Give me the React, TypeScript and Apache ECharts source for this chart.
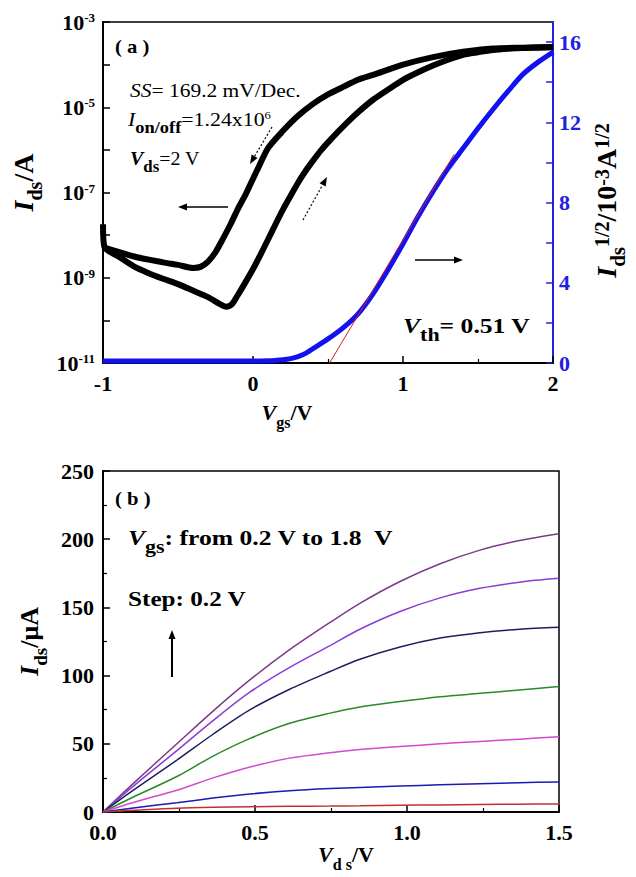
import React, { useEffect, useRef } from 'react';
import * as echarts from 'echarts';

const FONT = '"Liberation Serif", "Times New Roman", serif';

// ---------- Panel (a): transfer curve ----------
// forward sweep (lower branch), Vgs (V) and Ids (A)
const fwdVgs = [-1.0, -0.99, -0.9, -0.8, -0.7, -0.6, -0.5, -0.4, -0.3, -0.22, -0.18, -0.14, -0.1, -0.05, 0.0, 0.05, 0.1, 0.15, 0.2, 0.25, 0.3, 0.35, 0.4, 0.45, 0.5, 0.6, 0.7, 0.8, 0.9, 1.0, 1.1, 1.2, 1.3, 1.4, 1.5, 1.6, 1.7, 1.8, 1.9, 2.0];
const fwdIds = [1.8e-8, 5.2e-9, 3.2e-9, 1.9e-9, 1.3e-9, 9.5e-10, 7.1e-10, 5.0e-10, 3.5e-10, 2.4e-10, 2.1e-10, 2.4e-10, 4.0e-10, 7.9e-10, 1.6e-9, 3.5e-9, 7.9e-9, 1.8e-8, 4.0e-8, 8.3e-8, 1.7e-7, 3.2e-7, 5.6e-7, 9.5e-7, 1.5e-6, 3.5e-6, 7.6e-6, 1.5e-5, 2.6e-5, 4.4e-5, 6.6e-5, 9.5e-5, 1.3e-4, 1.7e-4, 1.95e-4, 2.2e-4, 2.35e-4, 2.45e-4, 2.5e-4, 2.57e-4];
// reverse sweep (upper branch)
const revVgs = [2.0, 1.8, 1.6, 1.4, 1.2, 1.0, 0.8, 0.7, 0.6, 0.5, 0.4, 0.3, 0.2, 0.1, 0.03, 0.0, -0.05, -0.1, -0.15, -0.2, -0.25, -0.3, -0.35, -0.4, -0.5, -0.6, -0.8, -1.0];
const revIds = [2.6e-4, 2.5e-4, 2.4e-4, 2.0e-4, 1.5e-4, 1.0e-4, 5.75e-5, 4.4e-5, 3.0e-5, 2.0e-5, 1.2e-5, 6.3e-6, 2.8e-6, 1.1e-6, 3.5e-7, 2.1e-7, 8.9e-8, 4.2e-8, 1.8e-8, 8.3e-9, 4.0e-9, 2.4e-9, 1.8e-9, 1.7e-9, 2.0e-9, 2.3e-9, 3.2e-9, 5.2e-9];
// sqrt(Ids) in 10^-3 A^1/2
const sqrtVgs = [-1.0, -0.5, 0.0, 0.1, 0.15, 0.2, 0.25, 0.3, 0.35, 0.4, 0.5, 0.6, 0.7, 0.8, 0.9, 1.0, 1.1, 1.2, 1.3, 1.4, 1.5, 1.6, 1.7, 1.8, 1.9, 2.0];
const sqrtIds = [0.1, 0.1, 0.1, 0.11, 0.13, 0.16, 0.22, 0.32, 0.48, 0.72, 1.2, 1.75, 2.45, 3.45, 4.65, 5.95, 7.3, 8.55, 9.7, 10.7, 11.7, 12.65, 13.55, 14.4, 15.0, 15.5];
// linear fit giving Vth
const fitVgs = [0.51, 1.34];
const fitSqrt = [0, 10.4];

const sqrtTicks = [0, 2, 4, 6, 8, 10, 12, 14, 16];
const sqrtLabels = [0, 4, 8, 12, 16];

// ---------- Panel (b): output curves ----------
const vds = [0, 0.1, 0.243, 0.362, 0.484, 0.614, 0.747, 0.845, 0.977, 1.109, 1.24, 1.37, 1.5];
const idsVgs18 = [0, 21, 50, 74, 97, 119, 139, 153, 169, 182, 192, 199, 204];
const idsVgs16 = [0, 19, 45, 67, 88, 106, 122, 134, 147, 157, 164, 168.5, 171.3];
const idsVgs14 = [0, 16, 38, 57, 75, 90, 103, 112, 121, 127.5, 131.5, 134, 135.4];
const idsVgs12 = [0, 11, 26, 41, 54, 65, 72.5, 77, 81, 84.5, 87, 89.5, 92];
const idsVgs10 = [0, 7, 16, 25, 33, 39.5, 43.5, 45.8, 48, 50, 51.7, 53.4, 55.2];
const idsVgs08 = [0, 3, 6.8, 10.2, 13.2, 15.6, 17.2, 18, 19, 20, 20.8, 21.5, 22];
const idsVgs06 = [0, 1.2, 2.8, 3.5, 3.9, 4.2, 4.4, 4.6, 5.0, 5.2, 5.5, 5.7, 5.9];
const outputSeries = [idsVgs18, idsVgs16, idsVgs14, idsVgs12, idsVgs10, idsVgs08, idsVgs06];
const outputNames = ['1.8 V', '1.6 V', '1.4 V', '1.2 V', '1.0 V', '0.8 V', '0.6 V'];
const outputColors = ['#7a3a88', '#8a3cd8', '#1e1e5e', '#2a8a2a', '#d24ad2', '#1a1ab4', '#c23030'];

const BLUE = '#2020e0';

// rich styles: main tokens top-aligned, subscripts bottom-aligned in a taller line
function richSet(main: number, small: number, drop: number, sup: number, mainBold: boolean, colorKey: string) {
  const w = mainBold ? 'bold' : 'normal';
  return {
    i: { fontFamily: FONT, fontSize: main, lineHeight: main, verticalAlign: 'top', fontWeight: w, fontStyle: 'italic', [colorKey]: '#000' },
    ib: { fontFamily: FONT, fontSize: main, lineHeight: main, verticalAlign: 'top', fontWeight: 'bold', fontStyle: 'italic', [colorKey]: '#000' },
    n: { fontFamily: FONT, fontSize: main, lineHeight: main, verticalAlign: 'top', fontWeight: w, [colorKey]: '#000' },
    s: { fontFamily: FONT, fontSize: small, lineHeight: main + drop, verticalAlign: 'bottom', fontWeight: 'bold', [colorKey]: '#000' },
    p: { fontFamily: FONT, fontSize: sup, lineHeight: sup, verticalAlign: 'top', fontWeight: mainBold ? 'bold' : 'normal', [colorKey]: '#000' },
  };
}

const tickLabel = {
  color: '#000',
  fontFamily: FONT,
  fontWeight: 'bold',
  fontSize: 22,
};

const blackLine = { color: '#000', width: 2 };

function arrowHead(tip: number[], from: number[], len = 9, half = 3.5) {
  const dx = tip[0] - from[0];
  const dy = tip[1] - from[1];
  const d = Math.sqrt(dx * dx + dy * dy);
  const ux = dx / d;
  const uy = dy / d;
  const bx = tip[0] - ux * len;
  const by = tip[1] - uy * len;
  return [
    [tip[0], tip[1]],
    [bx - uy * half, by + ux * half],
    [bx + uy * half, by - ux * half],
  ];
}

function arrow(from: number[], tip: number[], dashed = false, width = 1.5) {
  const head = arrowHead(tip, from);
  const mid = [(head[1][0] + head[2][0]) / 2, (head[1][1] + head[2][1]) / 2];
  return [
    {
      type: 'line',
      shape: { x1: from[0], y1: from[1], x2: mid[0], y2: mid[1] },
      style: { stroke: '#000', lineWidth: width, lineDash: dashed ? [2, 2] : null },
      silent: true,
    },
    {
      type: 'polygon',
      shape: { points: head },
      style: { fill: '#000' },
      silent: true,
    },
  ];
}

function txt(x: number, y: number, text: string, rich: any, scaleX = 1) {
  return {
    type: 'text',
    x,
    y,
    scaleX,
    silent: true,
    style: {
      text,
      rich,
      fontFamily: FONT,
      align: 'left',
      verticalAlign: 'top',
      fill: '#000',
    },
  };
}

export default function App() {
  const ref = useRef<HTMLDivElement>(null);

  useEffect(() => {
    if (!ref.current) return;
    const chart = echarts.init(ref.current, null, { renderer: 'svg' });

    const regRich = richSet(19, 16, 7, 11, false, 'fill');
    const boldRich = richSet(21, 18, 8, 12, true, 'fill');
    const tagRich = { n: { fontFamily: FONT, fontSize: 18, lineHeight: 18, verticalAlign: 'top', fontWeight: 'bold', fill: '#000' } };

    const option: any = {
      animation: false,
      backgroundColor: '#fff',
      grid: [
        { left: 103, top: 22, width: 456, height: 341, show: true, borderColor: '#000', borderWidth: 1.5, backgroundColor: 'transparent' },
        { left: 103, top: 471, width: 456, height: 341, show: true, borderColor: '#000', borderWidth: 1.5, backgroundColor: 'transparent' },
      ],
      xAxis: [
        {
          type: 'value',
          gridIndex: 0,
          min: -1,
          max: 2,
          interval: 1,
          axisLine: { onZero: false, lineStyle: blackLine },
          axisTick: { inside: true, length: 7, lineStyle: { color: '#000', width: 1.5 } },
          minorTick: { show: true, splitNumber: 2, length: 4, lineStyle: { color: '#000', width: 1.2 } },
          splitLine: { show: false },
          axisLabel: { ...tickLabel, margin: 9 },
          name: '{i|V}{s|gs}{n|/V}',
          nameLocation: 'middle',
          nameGap: 38,
          nameTextStyle: { rich: richSet(22, 16, 7, 14, true, 'color'), padding: [0, 82, 0, 0] },
        },
        {
          type: 'value',
          gridIndex: 1,
          min: 0,
          max: 1.5,
          interval: 0.5,
          axisLine: { onZero: false, lineStyle: blackLine },
          axisTick: { inside: true, length: 7, lineStyle: { color: '#000', width: 1.5 } },
          minorTick: { show: true, splitNumber: 2, length: 4, lineStyle: { color: '#000', width: 1.2 } },
          splitLine: { show: false },
          axisLabel: { ...tickLabel, margin: 9, formatter: (v: number) => v.toFixed(1) },
          name: '{i|V}{s|d s}{n|/V}',
          nameLocation: 'middle',
          nameGap: 27,
          nameTextStyle: { rich: richSet(22, 16, 7, 14, true, 'color'), padding: [0, 0, 0, 30] },
        },
      ],
      yAxis: [
        {
          type: 'log',
          logBase: 10,
          gridIndex: 0,
          position: 'left',
          min: 1e-11,
          max: 1e-3,
          splitNumber: 8,
          axisLine: { show: true, onZero: false, lineStyle: blackLine },
          axisTick: { show: true, inside: true, length: 7, lineStyle: { color: '#000', width: 1.5 } },
          splitLine: { show: false },
          axisLabel: {
            margin: 8,
            formatter: (v: number) => {
              const e = Math.round(Math.log10(v));
              return e % 2 !== 0 ? `{b|10}{s|${e}}` : '';
            },
            rich: {
              b: { fontFamily: FONT, fontWeight: 'bold', fontSize: 22, lineHeight: 22, verticalAlign: 'top', color: '#000' },
              s: { fontFamily: FONT, fontWeight: 'bold', fontSize: 13, lineHeight: 13, verticalAlign: 'top', color: '#000' },
            },
          },
          name: '{i|I}{s|ds}{n|/A}',
          nameLocation: 'middle',
          nameRotate: 90,
          nameGap: 48,
          nameTextStyle: { rich: richSet(28, 20, 8, 18, true, 'color'), padding: [0, 0, 0, 20] },
        },
        {
          type: 'value',
          gridIndex: 0,
          position: 'right',
          min: 0,
          max: 17,
          interval: 2,
          axisLine: { show: true, onZero: false, lineStyle: { color: BLUE, width: 2 } },
          axisTick: { show: true, inside: true, length: 7, customValues: sqrtTicks, lineStyle: { color: BLUE, width: 1.5 } },
          splitLine: { show: false },
          axisLabel: {
            ...tickLabel,
            color: BLUE,
            margin: 6,
            customValues: sqrtLabels,
            formatter: (v: number) => (v % 4 === 0 && v <= 16 ? String(v) : ''),
          },
          name: '{i|I}{s|ds}{p|1/2}{n|/10}{p|-3}{n|A}{p|1/2}',
          nameLocation: 'middle',
          nameRotate: 90,
          nameGap: 36,
          nameTextStyle: { rich: richSet(28, 21, 8, 20, true, 'color'), padding: [0, 16, 0, 0] },
        },
        {
          type: 'value',
          gridIndex: 1,
          min: 0,
          max: 250,
          interval: 50,
          axisLine: { show: true, onZero: false, lineStyle: blackLine },
          axisTick: { inside: true, length: 7, lineStyle: { color: '#000', width: 1.5 } },
          minorTick: { show: true, splitNumber: 2, length: 4, lineStyle: { color: '#000', width: 1.2 } },
          splitLine: { show: false },
          axisLabel: { ...tickLabel, margin: 9 },
          name: '{i|I}{s|ds}{n|/μA}',
          nameLocation: 'middle',
          nameRotate: 90,
          nameGap: 50,
          nameTextStyle: { rich: richSet(26, 19, 8, 16, true, 'color') },
        },
      ],
      series: [
        {
          name: 'forward',
          type: 'line',
          xAxisIndex: 0,
          yAxisIndex: 0,
          data: fwdVgs.map((v, i) => [v, fwdIds[i]]),
          showSymbol: false,
          smooth: 0.25,
          lineStyle: { color: '#000', width: 6 },
        },
        {
          name: 'reverse',
          type: 'line',
          xAxisIndex: 0,
          yAxisIndex: 0,
          data: revVgs.map((v, i) => [v, revIds[i]]),
          showSymbol: false,
          smooth: 0.25,
          lineStyle: { color: '#000', width: 6 },
        },
        {
          name: 'sqrtIds',
          type: 'line',
          xAxisIndex: 0,
          yAxisIndex: 1,
          data: sqrtVgs.map((v, i) => [v, sqrtIds[i]]),
          showSymbol: false,
          smooth: 0.3,
          lineStyle: { color: '#1212f0', width: 5 },
        },
        {
          name: 'fit',
          type: 'line',
          xAxisIndex: 0,
          yAxisIndex: 1,
          data: fitVgs.map((v, i) => [v, fitSqrt[i]]),
          showSymbol: false,
          lineStyle: { color: '#d02020', width: 1 },
        },
        ...outputSeries.map((arr, k) => ({
          name: outputNames[k],
          type: 'line',
          xAxisIndex: 1,
          yAxisIndex: 2,
          data: vds.map((v, i) => [v, arr[i]]),
          showSymbol: false,
          smooth: 0.3,
          lineStyle: { color: outputColors[k], width: 1.5 },
        })),
      ],
      graphic: [
        txt(115, 38, '{n|( a )}', tagRich, 1.15),
        txt(130, 81, '{i|SS}{n|= 169.2 mV/Dec.}', regRich, 1.13),
        txt(128, 110, '{i|I}{s|on/off}{n|=1.24x10}{p|6}', regRich, 1.15),
        txt(130, 149, '{ib|V}{s|ds}{n|=2 V}', regRich, 1.05),
        txt(403, 315, '{ib|V}{s|th}{n|= 0.51 V}', boldRich, 1.22),
        txt(115, 490, '{n|( b )}', tagRich, 1.15),
        txt(128, 527, '{ib|V}{s|gs}{n|: from 0.2 V to 1.8  V}', boldRich, 1.22),
        txt(128, 588, '{n|Step: 0.2 V}', boldRich, 1.2),
        ...arrow([228, 207], [178, 207]),
        ...arrow([415, 260], [463, 260]),
        ...arrow([272, 127], [250, 164], true, 1.2),
        ...arrow([303, 220], [327, 177], true, 1.2),
        ...arrow([172, 677], [172, 630], false, 2),
      ],
    };

    chart.setOption(option);
    return () => {
      chart.dispose();
    };
  }, []);

  return (
    <div
      ref={ref}
      style={{ position: 'absolute', left: 0, top: 0, width: 636, height: 877, background: '#fff' }}
    />
  );
}
